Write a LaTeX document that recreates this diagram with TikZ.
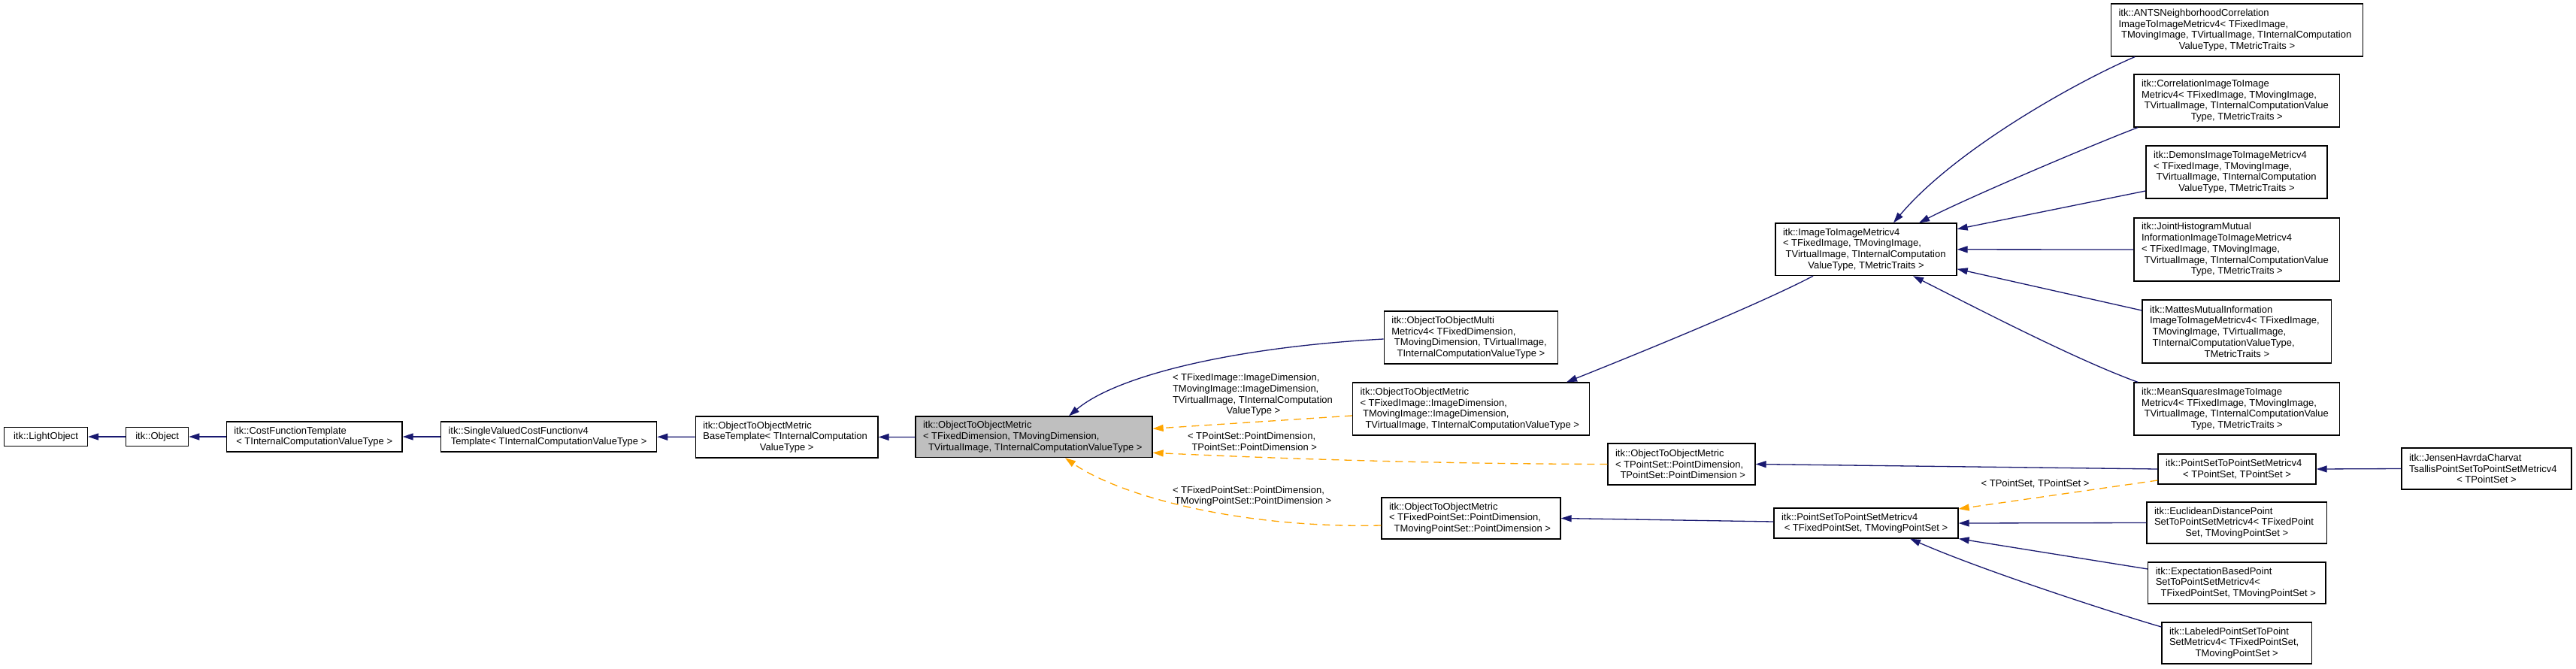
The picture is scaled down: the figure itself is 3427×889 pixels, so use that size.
\documentclass[tikz,border=0pt]{standalone}
\usepackage{fontspec}
\setmainfont{Liberation Sans}
\newfontfamily\dxfont{Liberation Sans}
\usetikzlibrary{arrows.meta}
\definecolor{navyedge}{HTML}{191970}
\definecolor{orangeedge}{HTML}{FFA500}
\definecolor{maingray}{HTML}{BFBFBF}
\newcommand\Ll[1]{\hbox to\hsize{#1\hss}}
\newcommand\Lc[1]{\hbox to\hsize{\hss#1\hss}}
\newcommand\bx[7]{%
  \pgfmathsetlengthmacro\twd{(#4-20)*1pt}%
  \node[cls, minimum width=#4pt, minimum height=#5pt, #6] (#1) at (#2,#3) {\vbox{\hsize=\twd\relax #7}};}
\newcommand\lb[5]{%
  \node[lab] (#1) at (#2,#3) {\vbox{\hsize=#4pt\relax #5}};}
\begin{document}
\begin{tikzpicture}[x=1pt,y=-1pt,
  cls/.style={draw=black, line width=1.3pt, fill=white, inner xsep=10pt, inner ysep=0pt,
    font=\dxfont\fontsize{13}{14.7}\selectfont},
  lab/.style={inner sep=0pt, font=\dxfont\fontsize{13}{14.7}\selectfont},
  inh/.style={draw=navyedge, line width=1.3pt, -{Triangle[length=14pt,width=9pt]}},
  tpl/.style={draw=orangeedge, line width=1.3pt, dash pattern=on 10pt off 7pt,
    -{Triangle[length=14pt,width=9pt]}}]
\fill[white] (0,0) rectangle (3427,889);
\useasboundingbox (0,0) rectangle (3427,889);

% left chain
\bx{light}{61.1}{581}{110.8}{25}{}{\Lc{itk::LightObject}}
\bx{object}{209.2}{581}{83}{25}{}{\Lc{itk::Object}}
\bx{cft}{418.2}{581}{233.7}{40}{}{\Ll{itk::CostFunctionTemplate}\Lc{< TInternalComputationValueType >}}
\bx{svcf}{730.1}{581}{287}{40}{}{\Ll{itk::SingleValuedCostFunctionv4}\Lc{Template< TInternalComputationValueType >}}
\bx{base}{1046.7}{581.5}{242.7}{55}{}{\Ll{itk::ObjectToObjectMetric}\Ll{BaseTemplate< TInternalComputation}\Lc{ValueType >}}
\bx{main}{1375.5}{581.3}{315}{54.5}{fill=maingray}{\Ll{itk::ObjectToObjectMetric}\Ll{< TFixedDimension, TMovingDimension,}\Lc{\ TVirtualImage, TInternalComputationValueType >}}

% middle columns
\bx{multi}{1957}{449}{231.3}{70}{}{\Ll{itk::ObjectToObjectMulti}\Ll{Metricv4< TFixedDimension,}\Ll{\ TMovingDimension, TVirtualImage,}\Lc{TInternalComputationValueType >}}
\bx{otomimg}{1957}{544}{315}{70}{}{\Ll{itk::ObjectToObjectMetric}\Ll{< TFixedImage::ImageDimension,}\Ll{\ TMovingImage::ImageDimension,}\Lc{\ TVirtualImage, TInternalComputationValueType >}}
\bx{otomps}{2237}{617.5}{196}{55}{}{\Ll{itk::ObjectToObjectMetric}\Ll{< TPointSet::PointDimension,}\Lc{\ TPointSet::PointDimension >}}
\bx{otomfps}{1957}{689.5}{238}{55}{}{\Ll{itk::ObjectToObjectMetric}\Ll{< TFixedPointSet::PointDimension,}\Lc{\ TMovingPointSet::PointDimension >}}
\bx{i2i}{2482.5}{331.8}{241}{69.5}{}{\Ll{itk::ImageToImageMetricv4}\Ll{< TFixedImage, TMovingImage,}\Ll{\ TVirtualImage, TInternalComputation}\Lc{ValueType, TMetricTraits >}}
\bx{ps2ps}{2482.5}{696}{245}{40}{}{\Ll{itk::PointSetToPointSetMetricv4}\Lc{< TFixedPointSet, TMovingPointSet >}}

% right column
\bx{ants}{2976}{40}{335}{70}{}{\Ll{itk::ANTSNeighborhoodCorrelation}\Ll{ImageToImageMetricv4< TFixedImage,}\Ll{\ TMovingImage, TVirtualImage, TInternalComputation}\Lc{ValueType, TMetricTraits >}}
\bx{corr}{2975.8}{134}{273.6}{70}{}{\Ll{itk::CorrelationImageToImage}\Ll{Metricv4< TFixedImage, TMovingImage,}\Ll{\ TVirtualImage, TInternalComputationValue}\Lc{Type, TMetricTraits >}}
\bx{demons}{2975.5}{229}{241}{70}{}{\Ll{itk::DemonsImageToImageMetricv4}\Ll{< TFixedImage, TMovingImage,}\Ll{\ TVirtualImage, TInternalComputation}\Lc{ValueType, TMetricTraits >}}
\bx{joint}{2975.8}{332}{273.6}{84}{}{\Ll{itk::JointHistogramMutual}\Ll{InformationImageToImageMetricv4}\Ll{< TFixedImage, TMovingImage,}\Ll{\ TVirtualImage, TInternalComputationValue}\Lc{Type, TMetricTraits >}}
\bx{mattes}{2975.8}{441}{251.6}{84}{}{\Ll{itk::MattesMutualInformation}\Ll{ImageToImageMetricv4< TFixedImage,}\Ll{\ TMovingImage, TVirtualImage,}\Ll{\ TInternalComputationValueType,}\Lc{TMetricTraits >}}
\bx{means}{2975.8}{544}{273.6}{70}{}{\Ll{itk::MeanSquaresImageToImage}\Ll{Metricv4< TFixedImage, TMovingImage,}\Ll{\ TVirtualImage, TInternalComputationValue}\Lc{Type, TMetricTraits >}}
\bx{ps2psT}{2976}{624}{210}{40}{}{\Ll{itk::PointSetToPointSetMetricv4}\Lc{< TPointSet, TPointSet >}}
\bx{jensen}{3308}{623.5}{226}{55}{}{\Ll{itk::JensenHavrdaCharvat}\Ll{TsallisPointSetToPointSetMetricv4}\Lc{< TPointSet >}}
\bx{eucl}{2975.7}{695.5}{239.4}{55}{}{\Ll{itk::EuclideanDistancePoint}\Ll{SetToPointSetMetricv4< TFixedPoint}\Lc{Set, TMovingPointSet >}}
\bx{expect}{2975.9}{775.5}{236.3}{55}{}{\Ll{itk::ExpectationBasedPoint}\Ll{SetToPointSetMetricv4<}\Lc{\ TFixedPointSet, TMovingPointSet >}}
\bx{labeled}{2975.7}{855.5}{199.4}{55}{}{\Ll{itk::LabeledPointSetToPoint}\Ll{SetMetricv4< TFixedPointSet,}\Lc{TMovingPointSet >}}

% edge labels
\lb{l1}{1667.5}{525.5}{215}{\Ll{< TFixedImage::ImageDimension,}\Ll{TMovingImage::ImageDimension,}\Ll{TVirtualImage, TInternalComputation}\Lc{ValueType >}}
\lb{l2}{1667}{587}{174}{\Ll{< TPointSet::PointDimension,}\Lc{\ TPointSet::PointDimension >}}
\lb{l3}{1667}{660}{214}{\Ll{< TFixedPointSet::PointDimension,}\Lc{TMovingPointSet::PointDimension >}}
\node[lab] (l4) at (2707.5,644) {< TPointSet, TPointSet >};

% left chain edges
\draw[inh] (object) -- (light);
\draw[inh] (cft) -- (object);
\draw[inh] (svcf) -- (cft);
\draw[inh] (base) -- (svcf);
\draw[inh] (main) -- (base);

% into main
\draw[inh] ([yshift=-2pt]multi.west) .. controls (1640,462) and (1485,500) .. ([xshift=46.5pt]main.north);
\draw[tpl] ([yshift=-9pt]otomimg.west) -- ([yshift=11pt]main.east);
\draw[tpl] (otomps.west) .. controls (1900,617) and (1700,610) .. ([yshift=-21pt]main.east);
\draw[tpl] ([yshift=-9.5pt]otomfps.west) .. controls (1650,703) and (1490,660) .. ([xshift=41.5pt]main.south);

% middle
\draw[inh] ([xshift=-70.5pt]i2i.south) .. controls (2340,405) and (2180,470) .. ([xshift=127pt]otomimg.north);
\draw[inh] ([yshift=2pt]ps2ps.west) -- (otomfps.east);
\draw[inh] (ps2psT.west) -- (otomps.east);
\draw[tpl] ([yshift=-15pt]ps2psT.west) -- ([yshift=19pt]ps2ps.east);

% into i2i
\draw[inh] ([xshift=-136pt]ants.south) .. controls (2760,110) and (2600,200) .. ([xshift=36.5pt]i2i.north);
\draw[inh] ([xshift=-131.8pt]corr.south) .. controls (2790,190) and (2620,262) .. ([xshift=70.5pt]i2i.north);
\draw[inh] ([yshift=-25pt]demons.west) -- ([yshift=27pt]i2i.east);
\draw[inh] (joint.west) -- (i2i.east);
\draw[inh] ([yshift=28pt]mattes.west) -- ([yshift=-26pt]i2i.east);
\draw[inh] ([xshift=-131.8pt]means.north) .. controls (2760,478) and (2620,405) .. ([xshift=62.5pt]i2i.south);

% into point set metrics
\draw[inh] (jensen.west) -- (ps2psT.east);
\draw[inh] (eucl.west) -- (ps2ps.east);
\draw[inh] ([yshift=18.5pt]expect.west) -- (ps2ps.south east);
\draw[inh] ([yshift=21.5pt]labeled.west) .. controls (2820,818) and (2640,760) .. ([xshift=58.5pt]ps2ps.south);
\end{tikzpicture}
\end{document}
